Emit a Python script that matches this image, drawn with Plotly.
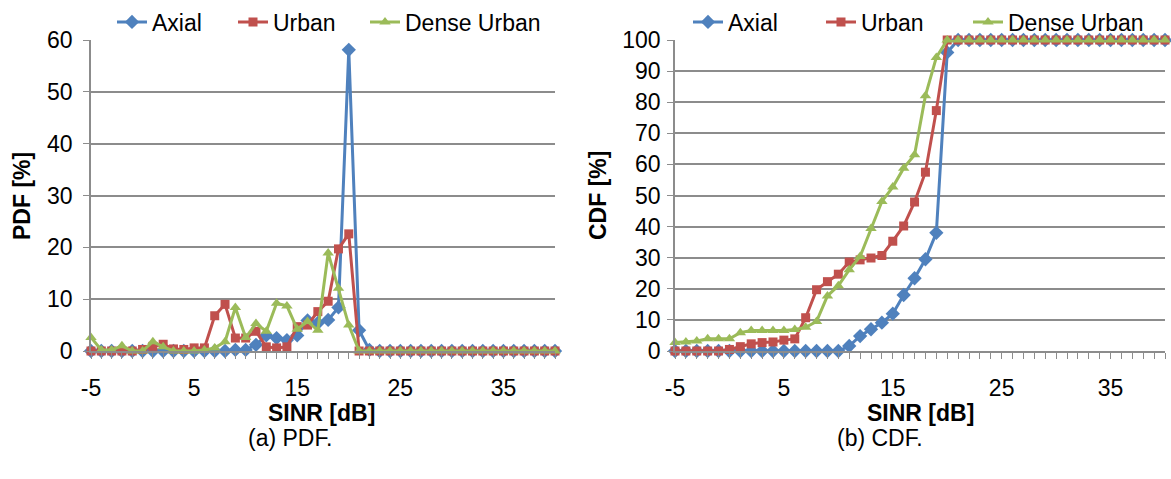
import plotly.graph_objects as go

sinr = list(range(-5, 41))
xtick_vals = [-5, 5, 15, 25, 35]
xtick_text = ["-5", "5", "15", "25", "35"]

pdf_axial = [0, 0, 0, 0, 0, 0, 0, 0, 0, 0, 0, 0, 0, 0, 0.2, 0.2, 1.2, 3.0, 2.5, 2.1, 3.0,
             5.9, 5.4, 6.0, 8.4, 58.1, 4.0, 0.2] + [0] * 18
pdf_urban = [0, 0, 0, 0, 0, 0.3, 0.9, 1.3, 0.4, 0.3, 0.6, 0.6, 6.8, 9.0, 2.5, 2.5, 3.8, 0.8,
             0.6, 0.8, 4.7, 5.0, 7.6, 9.6, 19.7, 22.6] + [0] * 20
pdf_dense = [2.6, 0.2, 0.2, 1.0, 0, 0, 1.8, 0.8, 0, 0, 0, 0.2, 0.6, 1.8, 8.4, 2.6, 5.3, 3.8,
             9.2, 8.7, 4.2, 5.7, 4.0, 18.9, 12.1, 5.0] + [0] * 20

cdf_axial = [0] * 16 + [1.6, 4.8, 7.0, 9.1, 12.0, 18.0, 23.4, 29.5, 38.0, 96.0] + [100] * 20
cdf_urban = [0, 0, 0, 0, 0, 0.5, 1.4, 2.3, 2.7, 2.9, 3.5, 3.9, 10.7, 19.7, 22.3, 24.7, 28.6,
             29.3, 29.9, 30.7, 35.3, 40.2, 47.9, 57.5, 77.3] + [100] * 21
cdf_dense = [2.7, 2.9, 3.2, 3.9, 3.9, 3.9, 5.9, 6.6, 6.6, 6.6, 6.6, 6.9, 7.6, 9.5, 17.7, 21.0,
             26.1, 30.4, 39.4, 48.1, 52.7, 58.8, 63.1, 82.1, 94.4] + [100] * 21

names = ["Axial", "Urban", "Dense Urban"]
colors = ["#4F81BD", "#C0504D", "#9BBB59"]
symbols = ["diamond", "square", "triangle-up"]
msizes = [11, 9, 10]

W, H = 1171, 479
FONT = "Liberation Sans, Arial, sans-serif"
FS = 23
GRID = "#8C8C8C"

# legend entry left edges (pixels) for the two panels
leg_left_px = [[112, 233, 365], [688, 821, 968]]

fig = go.Figure()

panels = [((pdf_axial, pdf_urban, pdf_dense), "x", "y"),
          ((cdf_axial, cdf_urban, cdf_dense), "x2", "y2")]
for p, (ser, xa, ya) in enumerate(panels):
    for k in range(3):
        idx = p * 3 + k + 1
        leg = "legend" if idx == 1 else f"legend{idx}"
        fig.add_trace(go.Scatter(
            x=sinr, y=ser[k], name=names[k], mode="lines+markers",
            line=dict(color=colors[k], width=3),
            marker=dict(symbol=symbols[k], size=msizes[k], color=colors[k]),
            xaxis=xa, yaxis=ya, legend=leg, cliponaxis=False))


def px_x(p):
    return p / W


def px_y(p):
    return 1 - p / H


xcommon = dict(range=[-5, 40], tickmode="array", tickvals=xtick_vals, ticktext=xtick_text,
               showgrid=False, zeroline=False, automargin=False,
               showline=True, linecolor=GRID, linewidth=1.5,
               ticks="outside", ticklen=6, tickcolor=GRID, tickwidth=1.2,
               minor=dict(dtick=1, tick0=-5, ticks="outside", ticklen=6, tickcolor=GRID,
                          tickwidth=1.2, showgrid=False),
               tickfont=dict(family=FONT, size=FS, color="black"),
               ticklabelstandoff=10)
ycommon = dict(tick0=0, dtick=10, showgrid=True, gridcolor=GRID, gridwidth=1.5,
               zeroline=False, showline=True, linecolor=GRID, linewidth=1.5, automargin=False,
               ticks="outside", ticklen=6, tickcolor=GRID, tickwidth=1.2,
               tickfont=dict(family=FONT, size=FS, color="black"))

ydom = [px_y(351), px_y(40)]
leg_common = dict(orientation="h", xref="container", yref="container",
                  xanchor="left", yanchor="middle",
                  font=dict(family=FONT, size=FS), bgcolor="rgba(0,0,0,0)",
                  itemwidth=30, tracegroupgap=0)
layout_legs = {}
for p in range(2):
    for k in range(3):
        idx = p * 3 + k + 1
        key = "legend" if idx == 1 else f"legend{idx}"
        layout_legs[key] = dict(x=px_x(leg_left_px[p][k]), y=px_y(22), **leg_common)

fig.update_layout(
    width=W, height=H, margin=dict(l=0, r=0, t=0, b=0, autoexpand=False),
    paper_bgcolor="white", plot_bgcolor="white",
    font=dict(family=FONT, size=FS, color="black"),
    xaxis=dict(domain=[px_x(91), px_x(555)], anchor="y", **xcommon),
    yaxis=dict(domain=ydom, anchor="x", range=[0, 60], ticklabelstandoff=6, **ycommon),
    xaxis2=dict(domain=[px_x(675), px_x(1165)], anchor="y2", **xcommon),
    yaxis2=dict(domain=ydom, anchor="x2", range=[0, 100], ticklabelstandoff=2, **ycommon),
    showlegend=True,
    **layout_legs,
)

ann = [
    dict(text="<b>PDF [%]</b>", x=px_x(22), y=px_y(196), textangle=-90),
    dict(text="<b>CDF [%]</b>", x=px_x(598), y=px_y(196), textangle=-90),
    dict(text="<b>SINR [dB]</b>", x=px_x(322), y=px_y(413)),
    dict(text="<b>SINR [dB]</b>", x=px_x(920), y=px_y(413)),
    dict(text="(a) PDF.", x=px_x(290), y=px_y(438)),
    dict(text="(b) CDF.", x=px_x(880), y=px_y(438)),
]
for a in ann:
    fig.add_annotation(xref="paper", yref="paper", showarrow=False,
                       xanchor="center", yanchor="middle",
                       font=dict(family=FONT, size=FS, color="black"), **a)

fig.write_html("out.html")
